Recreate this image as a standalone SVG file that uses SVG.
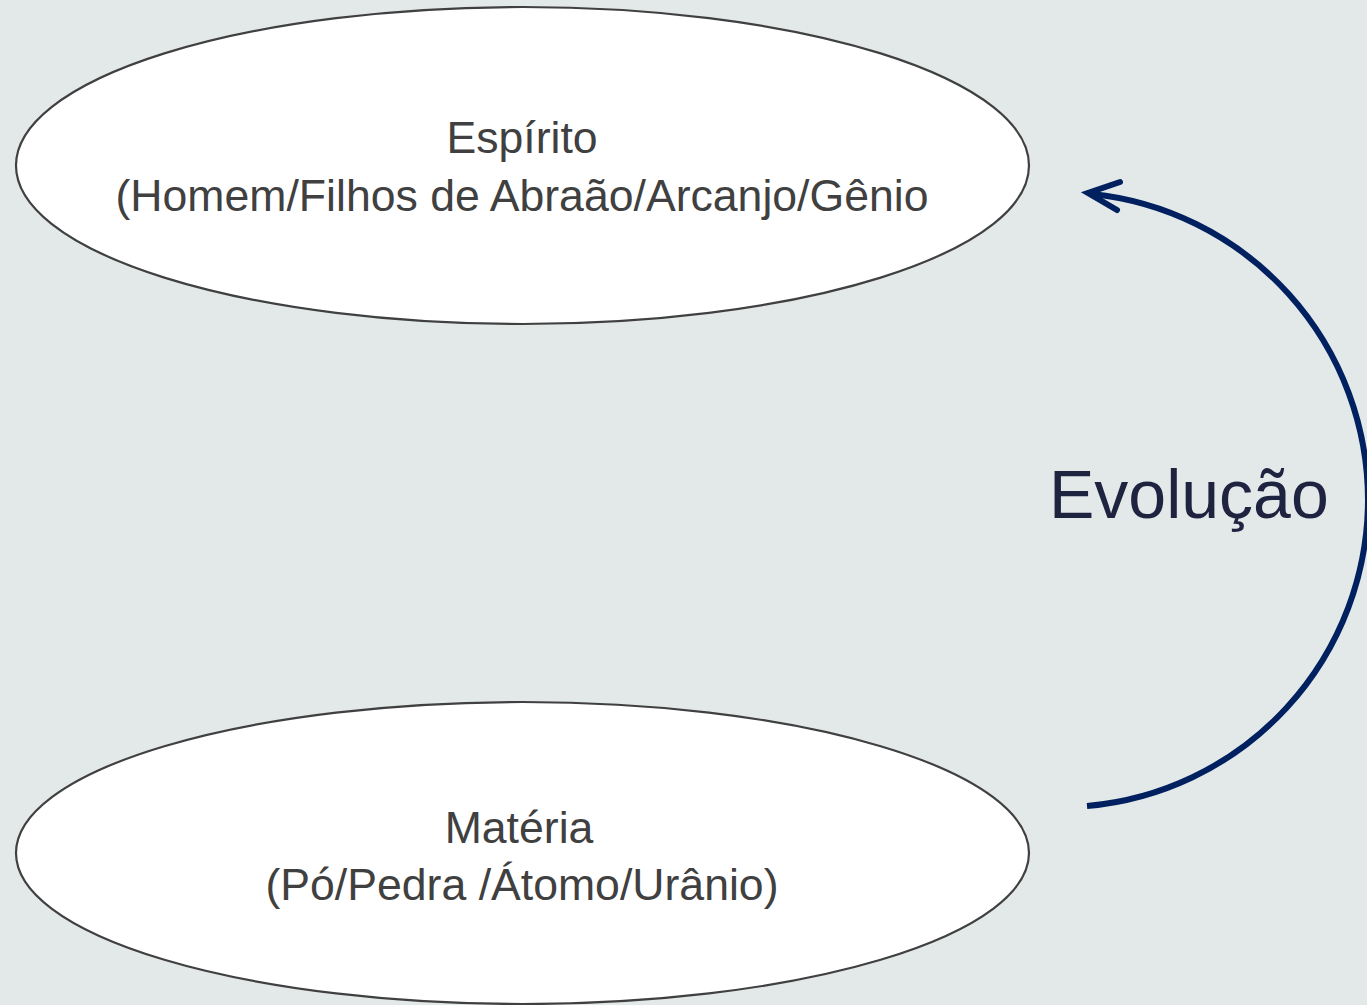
<svg xmlns="http://www.w3.org/2000/svg" width="1367" height="1005" viewBox="0 0 1367 1005">
<style>
.node{fill:#ffffff;stroke:#404040;stroke-width:2.2}
.lbl{font-family:"Liberation Sans",Arial,sans-serif;font-size:44.6px;fill:#404040;text-anchor:middle}
.conn{fill:none;stroke:#002060;stroke-width:6}
.evo{font-family:"Liberation Sans",Arial,sans-serif;font-size:68px;fill:#1E2340}
</style>
<rect width="1367" height="1005" fill="#E3E9E9"/>
<g id="espirito">
<ellipse class="node" cx="522.5" cy="165.5" rx="506.5" ry="158.5"/>
<text class="lbl" x="522" y="153">Espírito</text>
<text class="lbl" x="522" y="211">(Homem/Filhos de Abraão/Arcanjo/Gênio</text>
</g>
<g id="materia">
<ellipse class="node" cx="522.5" cy="853" rx="506.5" ry="151"/>
<text class="lbl" x="519" y="843">Matéria</text>
<text class="lbl" x="522" y="900">(Pó/Pedra /Átomo/Urânio)</text>
</g>
<g id="connectors">
<path class="conn" d="M1087,806 A308,308 0 0 0 1368,500 A308,308 0 0 0 1092,194"/>
<path class="conn" d="M1120,182 L1088,193 L1117,210" stroke-linecap="round" stroke-linejoin="miter"/>
</g>
<g id="evolucao-label">
<text class="evo" x="1049" y="518">Evolução</text>
</g>
</svg>
